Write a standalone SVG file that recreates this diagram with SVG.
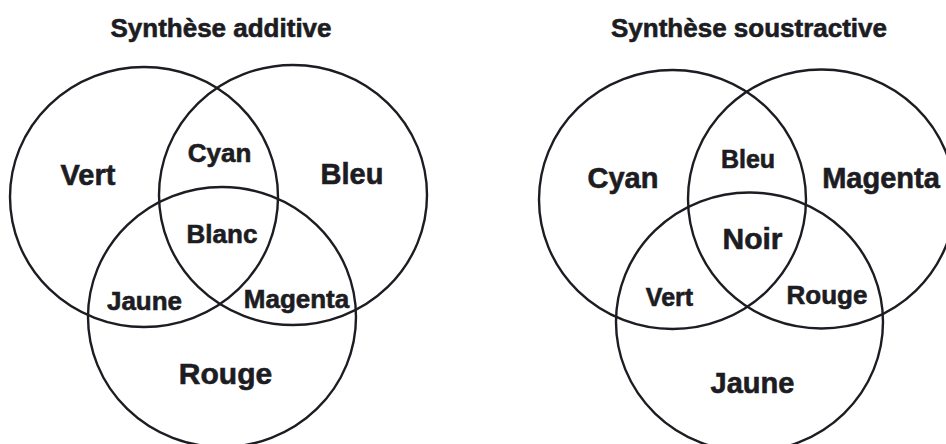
<svg xmlns="http://www.w3.org/2000/svg" width="946" height="444" viewBox="0 0 946 444">
<style>
.c{fill:none;stroke:#1c1c22;stroke-width:2.4}
text{font-family:"Liberation Sans",Arial,sans-serif;font-weight:bold;fill:#1c1c22;stroke:#1c1c22;stroke-width:0.6;text-anchor:middle}
.t{font-size:26px}
.p{font-size:29px}
.s{font-size:26px}
</style>
<rect width="946" height="444" fill="#ffffff"/>
<g id="additive">
  <text id="title-additive" class="t" x="221" y="37">Synthèse additive</text>
  <g id="add-vert"><ellipse class="c" cx="144" cy="197" rx="134" ry="130"/><text class="p" x="88" y="185">Vert</text></g>
  <g id="add-bleu"><ellipse class="c" cx="293" cy="195" rx="134" ry="130"/><text class="p" x="352" y="184">Bleu</text></g>
  <g id="add-rouge"><ellipse class="c" cx="222" cy="317" rx="134" ry="130"/><text class="p" x="225.5" y="384" style="font-size:30px">Rouge</text></g>
  <g id="add-cyan"><text class="s" x="219.5" y="162">Cyan</text></g>
  <g id="add-blanc"><text class="s" x="222" y="243">Blanc</text></g>
  <g id="add-jaune"><text class="s" x="144.5" y="310">Jaune</text></g>
  <g id="add-magenta"><text class="s" x="296.5" y="308">Magenta</text></g>
</g>
<g id="soustractive">
  <text id="title-soustractive" class="t" x="749" y="37">Synthèse soustractive</text>
  <g id="sub-cyan"><ellipse class="c" cx="672.5" cy="199.5" rx="133.5" ry="129.5"/><text class="p" x="623" y="188">Cyan</text></g>
  <g id="sub-magenta"><ellipse class="c" cx="821.5" cy="199" rx="133.5" ry="129.5"/><text class="p" x="881" y="188">Magenta</text></g>
  <g id="sub-jaune"><ellipse class="c" cx="749.5" cy="322" rx="133.5" ry="129.5"/><text class="p" x="752.5" y="393">Jaune</text></g>
  <g id="sub-bleu"><text class="s" x="748" y="168" style="font-size:25px">Bleu</text></g>
  <g id="sub-noir"><text class="p" x="752.5" y="249" style="font-size:30px">Noir</text></g>
  <g id="sub-vert"><text class="s" x="669.5" y="306" style="font-size:25px">Vert</text></g>
  <g id="sub-rouge"><text class="s" x="827" y="304">Rouge</text></g>
</g>
</svg>
